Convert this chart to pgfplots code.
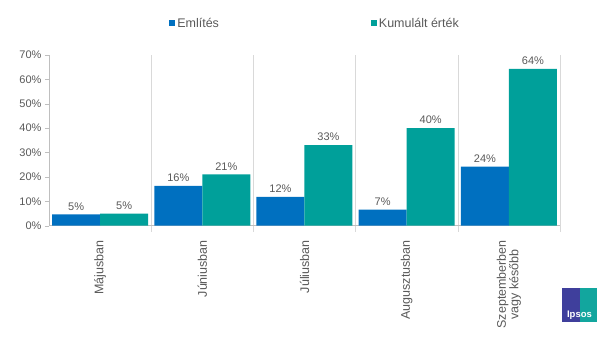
\documentclass[border=0pt]{standalone}
\usepackage{pgfplots}
\pgfplotsset{compat=1.18}
\usepackage{fontspec}
\setmainfont{Liberation Sans}
\definecolor{cblue}{HTML}{0070C0}
\definecolor{cteal}{HTML}{00A09A}
\definecolor{txt}{HTML}{595959}
\definecolor{grd}{HTML}{D9D9D9}
\definecolor{axc}{HTML}{BFBFBF}
\definecolor{ipsl}{HTML}{3F3F9C}
\definecolor{ipsr}{HTML}{12A69E}
\begin{document}
\begin{tikzpicture}[x=1pt,y=1pt]
\useasboundingbox (0,0) rectangle (614,337);
\begin{axis}[
  /pgf/number format/assume math mode=true,
  at={(49pt,111.3pt)}, anchor=south west,
  scale only axis, width=511pt, height=170.7pt,
  xmin=-0.5, xmax=4.5, ymin=0, ymax=70,
  ybar=0pt, bar width=48pt,
  axis lines*=left,
  axis line style={axc},
  xtick={0,1,2,3,4},
  xticklabels={Májusban,Júniusban,Júliusban,Augusztusban,{Szeptemberben\\vagy később}},
  xticklabel style={yshift=-7pt, rotate=90, anchor=east, align=center, font=\fontsize{12.5}{12.5}\selectfont, text=txt},
  major x tick style={draw=none},
  minor xtick={0.5,1.5,2.5,3.5,4.5},
  minor x tick style={draw=grd},
  xminorgrids, minor grid style={grd},
  minor tick length=6pt,
  major tick length=4pt,
  tick align=outside,
  ytick={0,10,...,70},
  yticklabel={\pgfmathprintnumber{\tick}\%},
  yticklabel style={font=\fontsize{11}{12}\selectfont, text=txt},
  y tick style={axc},
  nodes near coords={\pgfmathprintnumber[fixed,precision=0]{\pgfplotspointmeta}\%},
  nodes near coords style={font=\fontsize{11}{12}\selectfont, text=txt, inner sep=4pt},
  legend columns=2,
  legend style={at={(0.235,1.186)}, anchor=west, draw=none, fill=none,
    font=\fontsize{12.5}{13}\selectfont, text=txt, inner sep=0pt,
    /tikz/every even column/.append style={column sep=150pt}},
  legend cell align=left,
  legend image code/.code={\fill[#1,draw=none] (0pt,-3pt) rectangle (6pt,3pt);},
]
\addplot[fill=cblue, draw=none] coordinates {(0,4.6) (1,16.3) (2,11.8) (3,6.6) (4,24.2)};
\addplot[fill=cteal, draw=none] coordinates {(0,4.9) (1,21.0) (2,33.0) (3,40.0) (4,64.3)};
\legend{Említés, Kumulált érték}
\end{axis}
% Ipsos logo
\fill[ipsl] (562,15) rectangle (580,49);
\fill[ipsr] (580,15) rectangle (597,49);
\node[text=white, font=\bfseries\fontsize{9.5}{10}\selectfont, inner sep=0pt] at (579.5,22) {Ipsos};
\end{tikzpicture}
\end{document}
